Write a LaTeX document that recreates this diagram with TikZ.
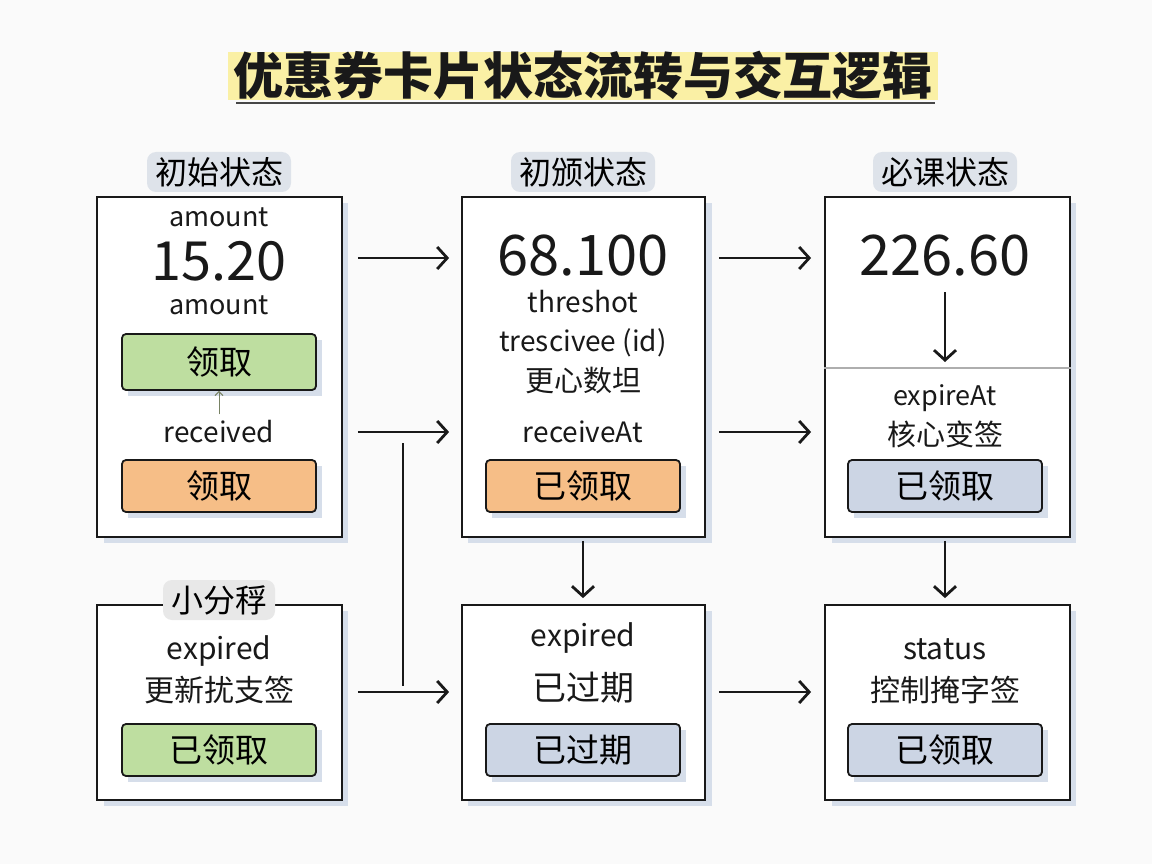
\documentclass[tikz,border=0pt]{standalone}
\usepackage{fontspec}
\setmainfont{Noto Sans CJK SC}
\usetikzlibrary{arrows.meta}
\definecolor{bgc}{RGB}{250,250,250}
\definecolor{hl}{RGB}{250,240,165}
\definecolor{hdr}{RGB}{222,227,234}
\definecolor{hdrg}{RGB}{232,232,232}
\definecolor{shad}{RGB}{214,222,234}
\definecolor{gbtn}{RGB}{190,222,160}
\definecolor{obtn}{RGB}{246,190,135}
\definecolor{bbtn}{RGB}{204,213,228}
\definecolor{ink}{RGB}{25,25,25}
\definecolor{sarr}{RGB}{120,130,100}
\newcommand{\fs}[1]{\fontsize{#1}{#1}\selectfont}
\begin{document}
\begin{tikzpicture}[x=1pt,y=-1pt,
  card/.style={draw=ink,line width=1.8pt,fill=white,minimum width=245pt,inner sep=0pt},
  btn/.style={draw=ink,line width=1.8pt,rounded corners=4pt,minimum width=194pt,minimum height=52pt,inner sep=0pt,font=\fs{33}},
  hdrlab/.style={fill=hdr,rounded corners=9pt,inner xsep=8pt,minimum height=40pt,font=\fs{32}},
  txt/.style={inner sep=0pt,text=ink},
  arr/.style={draw=ink,line width=2.8pt,-{Straight Barb[length=10pt,width=22pt,line width=2.8pt]}},
]
\fill[bgc] (0,0) rectangle (1152,864);
\useasboundingbox (0,0) rectangle (1152,864);
% title
\fill[hl] (228,52) rectangle (938,100);
\node[txt,font=\fs{50}\bfseries] (title) at (583,75) {优惠券卡片状态流转与交互逻辑};
\draw[ink!80,line width=2.2pt] (236,103) -- (935,103);
% shadows
\foreach \x/\y/\h in {219.5/367/340,583.5/367/340,947.5/367/340,219.5/702.5/195,583.5/702.5/195,947.5/702.5/195}
  \fill[shad] (\x-122+6,\y-\h/2+6) rectangle (\x+122+6,\y+\h/2+6);
% cards
\node[card,minimum height=340pt] (b1) at (219.5,367) {};
\node[card,minimum height=340pt,minimum width=243pt] (b2) at (583.5,367) {};
\node[card,minimum height=340pt] (b3) at (947.5,367) {};
\node[card,minimum height=195pt] (b4) at (219.5,702.5) {};
\node[card,minimum height=195pt,minimum width=243pt] (b5) at (583.5,702.5) {};
\node[card,minimum height=195pt] (b6) at (947.5,702.5) {};
% headers
\node[hdrlab] (h1) at (219,172) {初始状态};
\node[hdrlab] (h2) at (583,172) {初颁状态};
\node[hdrlab] (h3) at (945,172) {必课状态};
\node[hdrlab,fill=hdrg] (h4) at (219,600) {小分稃};
% box 1
\node[txt,font=\fs{27}] (a1) at (219,217) {amount};
\node[txt,font=\fs{54}] (n1) at (219,261) {15.20};
\node[txt,font=\fs{27}] (a2) at (219,305) {amount};
\fill[shad] (128,340) rectangle (322,396);
\node[btn,fill=gbtn,minimum height=56pt] (g1) at (219,362) {领取};
\node[txt,font=\fs{28}] (r1) at (219,432) {received};
\draw[sarr,line width=1pt,-{Straight Barb[length=4pt,width=8pt]}] (r1.north) ++(0,-6) -- (g1.south);
\fill[shad] (128,466) rectangle (322,518);
\node[btn,fill=obtn] (o1) at (219,486) {领取};
% box 2
\node[txt,font=\fs{56}] (n2) at (583,256) {68.100};
\node[txt,font=\fs{28}] (t1) at (583,302) {threshot};
\node[txt,font=\fs{28}] (t2) at (583,343) {trescivee (id)};
\node[txt,font=\fs{29}] (t3) at (583,381) {更心数坦};
\node[txt,font=\fs{28}] (t4) at (583,432) {receiveAt};
\fill[shad] (492,466) rectangle (686,518);
\node[btn,fill=obtn] (o2) at (583,486) {已领取};
% box 3
\node[txt,font=\fs{56}] (n3) at (945,256) {226.60};
\coordinate (d3) at (945,362);
\draw[arr] (945,292) -- (d3);
\draw[ink!35,line width=1.2pt] (b3.west|-0,368) -- (b3.east|-0,368);
\node[txt,font=\fs{27}] (e3) at (945,398) {expireAt};
\node[txt,font=\fs{29}] (k3) at (945,434) {核心变签};
\fill[shad] (854,466) rectangle (1048,518);
\node[btn,fill=bbtn] (p3) at (945,486) {已领取};
% box 4
\node[txt,font=\fs{30}] (e4) at (219,651) {expired};
\node[txt,font=\fs{30}] (k4) at (219,690) {更新扰支签};
\fill[shad] (128,730) rectangle (322,782);
\node[btn,fill=gbtn] (g4) at (219,750) {已领取};
% box 5
\node[txt,font=\fs{30}] (e5) at (583,638) {expired};
\node[txt,font=\fs{34}] (k5) at (583,688) {已过期};
\fill[shad] (492,730) rectangle (686,782);
\node[btn,fill=bbtn] (p5) at (583,750) {已过期};
% box 6
\node[txt,font=\fs{30}] (e6) at (945,649) {status};
\node[txt,font=\fs{30}] (k6) at (945,690) {控制掩字签};
\fill[shad] (854,730) rectangle (1048,782);
\node[btn,fill=bbtn] (p6) at (945,750) {已领取};
% connectors
\draw[arr] ([xshift=15pt]b1.east|-0,258) -- ([xshift=-12pt]b2.west|-0,258);
\draw[arr] ([xshift=15pt]b1.east|-0,432) -- ([xshift=-12pt]b2.west|-0,432);
\draw[arr] ([xshift=15pt]b4.east|-0,692) -- ([xshift=-12pt]b5.west|-0,692);
\draw[arr] ([xshift=13pt]b2.east|-0,258) -- ([xshift=-13pt]b3.west|-0,258);
\draw[arr] ([xshift=13pt]b2.east|-0,432) -- ([xshift=-13pt]b3.west|-0,432);
\draw[arr] ([xshift=13pt]b5.east|-0,692) -- ([xshift=-13pt]b6.west|-0,692);
\draw[arr] ([yshift=-3pt]b2.south-|583,0) -- ([yshift=6pt]b5.north-|583,0);
\draw[arr] ([yshift=-3pt]b3.south-|945,0) -- ([yshift=6pt]b6.north-|945,0);
\coordinate (vt) at (403,443);
\coordinate (vb) at (403,686);
\draw[ink,line width=2pt] (vt) -- (vb);
\end{tikzpicture}
\end{document}
